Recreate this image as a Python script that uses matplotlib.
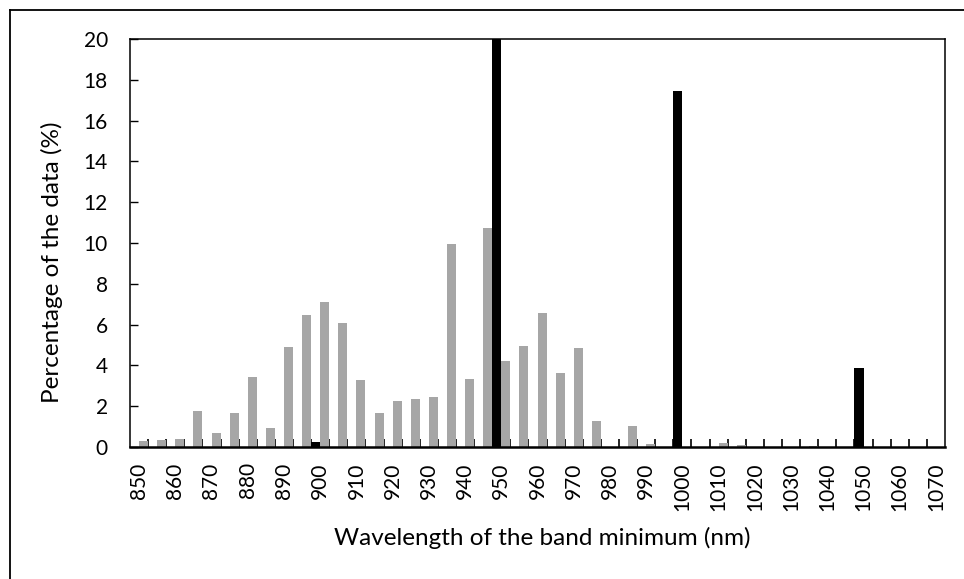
import numpy as np
import matplotlib
matplotlib.use("Agg")
import matplotlib.pyplot as plt
from matplotlib.lines import Line2D

plt.rcParams['font.family'] = ['Lato', 'DejaVu Sans']

wavelengths = list(range(850, 1071, 5))

gray_pct = [0.30, 0.33, 0.41, 1.75, 0.69, 1.67, 3.42, 0.95, 4.89, 6.49,
            7.10, 6.07, 3.29, 1.65, 2.27, 2.34, 2.44, 9.96, 3.35, 10.73,
            4.20, 4.95, 6.59, 3.61, 4.84, 1.29, 0.00, 1.01, 0.15, 0.00,
            0.00, 0.00, 0.18, 0.10, 0.00, 0.00, 0.00, 0.07, 0.00, 0.00,
            0.00, 0.00, 0.00, 0.00, 0.00]

black_pct = [0, 0, 0, 0, 0, 0, 0, 0, 0, 0,
             0.25, 0, 0, 0, 0, 0, 0, 0, 0, 0,
             22.5, 0, 0, 0, 0, 0, 0, 0, 0, 0,
             17.45, 0, 0, 0, 0, 0, 0, 0, 0, 0,
             3.88, 0, 0, 0, 0]

tick_labels = [str(w) for w in wavelengths[::2]]

x = np.arange(len(wavelengths))

fig = plt.figure(figsize=(9.64, 5.79), dpi=100)
ax = fig.add_axes([130 / 964, 1 - 447 / 579, 815 / 964, 408 / 579])

ax.bar(x - 0.25, black_pct, width=0.5, color="black", zorder=2)
ax.bar(x + 0.25, gray_pct, width=0.5, color="#a6a6a6", zorder=2)

ax.set_xlim(-0.5, len(x) - 0.5)
ax.set_ylim(0, 20)
ax.set_yticks(np.arange(0, 21, 2))

# labels on every other category, tick marks between categories
ax.set_xticks(x[::2])
ax.set_xticklabels(tick_labels, rotation=90, fontsize=15)
ax.set_xticks(np.arange(0.5, len(x) - 0.5, 1), minor=True)
ax.tick_params(axis="x", which="major", length=0, pad=11)
ax.tick_params(axis="x", which="minor", direction="in", length=6, width=1.2)
ax.tick_params(axis="y", direction="in", length=6, width=1, labelsize=15, pad=16)

for side in ["top", "right", "left"]:
    ax.spines[side].set_linewidth(1.1)
ax.spines["bottom"].set_linewidth(1.8)

ax.set_xlabel("Wavelength of the band minimum (nm)", fontsize=17.5)
ax.set_ylabel("Percentage of the data (%)", fontsize=17.5)
ax.xaxis.set_label_coords((542 - 130) / 815, -(538 - 447) / 408)
ax.yaxis.set_label_coords((52 - 130) / 815, (447 - 262) / 408)
ax.xaxis.label.set_va("center")
ax.yaxis.label.set_va("center")

# outer frame (partly off the picture)
fig.add_artist(Line2D([10 / 964, 10 / 964], [0, 1 - 9.5 / 579], color="black", lw=1.3))
fig.add_artist(Line2D([10 / 964, 1], [1 - 9.5 / 579, 1 - 9.5 / 579], color="black", lw=1.3))

fig.savefig("out.png", dpi=100)
